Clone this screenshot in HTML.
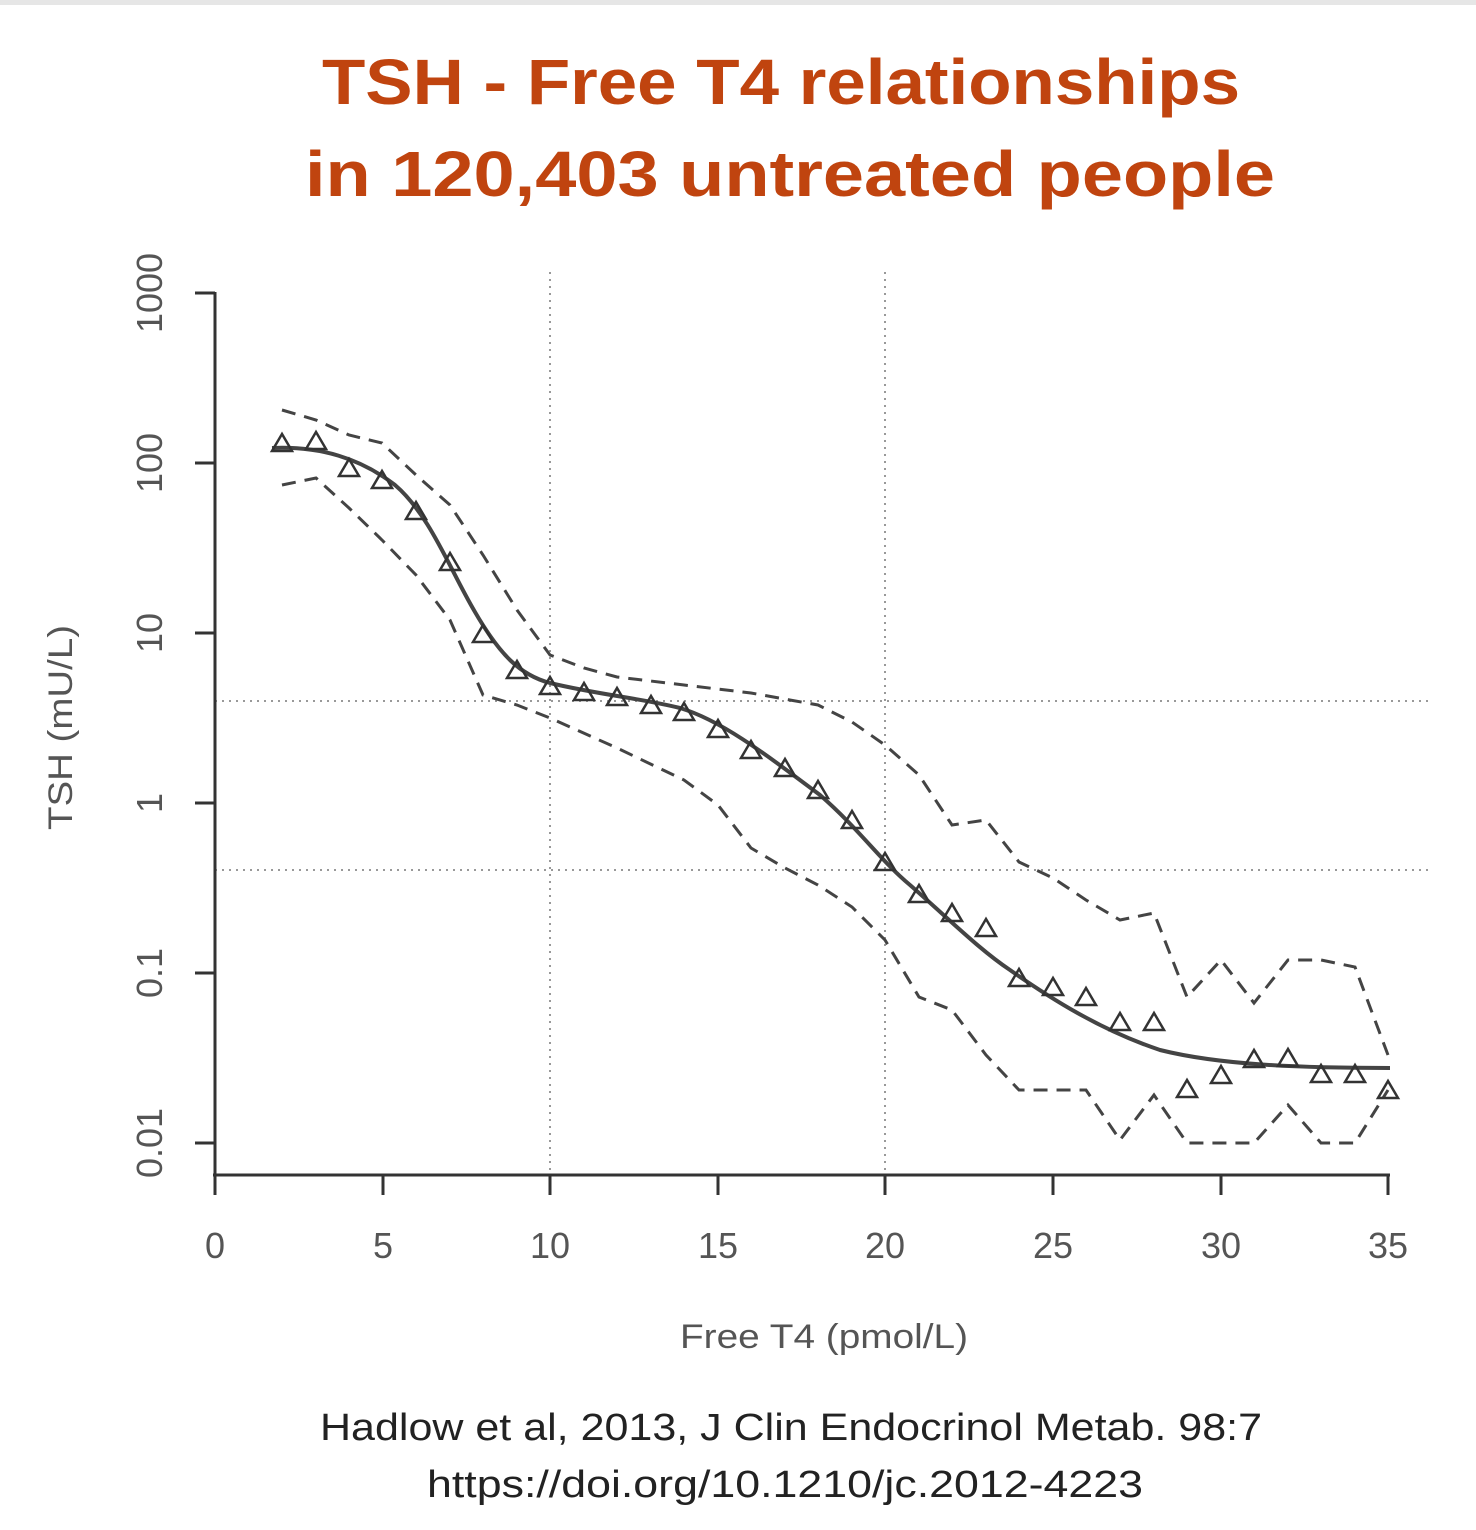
<!DOCTYPE html>
<html><head><meta charset="utf-8"><style>
html,body{margin:0;padding:0;background:#fff;width:1476px;height:1530px;overflow:hidden}
</style></head><body>
<svg width="1476" height="1530" viewBox="0 0 1476 1530" xmlns="http://www.w3.org/2000/svg">
<rect x="0" y="0" width="1476" height="5" fill="#e6e6e6"/>
<g font-family="Liberation Sans, sans-serif" font-weight="bold" fill="#c0440f" font-size="64">
<text x="322" y="104" textLength="918" lengthAdjust="spacingAndGlyphs">TSH - Free T4 relationships</text>
<text x="305" y="196" textLength="970" lengthAdjust="spacingAndGlyphs">in 120,403 untreated people</text>
</g>
<g stroke="#999" stroke-width="2" stroke-dasharray="2,5" fill="none">
<line x1="550" y1="272" x2="550" y2="1175"/>
<line x1="885" y1="272" x2="885" y2="1175"/>
<line x1="215" y1="701" x2="1428" y2="701"/>
<line x1="215" y1="870" x2="1428" y2="870"/>
</g>
<g stroke="#333" stroke-width="3" fill="none">
<line x1="215" y1="292" x2="215" y2="1176"/>
<line x1="213" y1="1175" x2="1390" y2="1175"/>
<line x1="195" y1="293" x2="215" y2="293"/>
<line x1="195" y1="463" x2="215" y2="463"/>
<line x1="195" y1="633" x2="215" y2="633"/>
<line x1="195" y1="803" x2="215" y2="803"/>
<line x1="195" y1="973" x2="215" y2="973"/>
<line x1="195" y1="1143" x2="215" y2="1143"/>
<line x1="215" y1="1175" x2="215" y2="1195"/>
<line x1="383" y1="1175" x2="383" y2="1195"/>
<line x1="550" y1="1175" x2="550" y2="1195"/>
<line x1="718" y1="1175" x2="718" y2="1195"/>
<line x1="885" y1="1175" x2="885" y2="1195"/>
<line x1="1053" y1="1175" x2="1053" y2="1195"/>
<line x1="1221" y1="1175" x2="1221" y2="1195"/>
<line x1="1388" y1="1175" x2="1388" y2="1195"/>
</g>
<g font-family="Liberation Sans, sans-serif" fill="#555" font-size="36" text-anchor="middle">
<text x="215" y="1258">0</text><text x="383" y="1258">5</text><text x="550" y="1258">10</text>
<text x="718" y="1258">15</text><text x="885" y="1258">20</text><text x="1053" y="1258">25</text>
<text x="1221" y="1258">30</text><text x="1388" y="1258">35</text>
<text transform="translate(162,293) rotate(-90)">1000</text>
<text transform="translate(162,463) rotate(-90)">100</text>
<text transform="translate(162,633) rotate(-90)">10</text>
<text transform="translate(162,803) rotate(-90)">1</text>
<text transform="translate(162,973) rotate(-90)">0.1</text>
<text transform="translate(162,1143) rotate(-90)">0.01</text>
</g>
<g font-family="Liberation Sans, sans-serif" fill="#555" font-size="34">
<text x="680" y="1348" textLength="288" lengthAdjust="spacingAndGlyphs">Free T4 (pmol/L)</text>
<text transform="translate(72,830) rotate(-90)" textLength="205" lengthAdjust="spacingAndGlyphs">TSH (mU/L)</text>
</g>
<g stroke="#444" stroke-width="3" stroke-dasharray="14,9" fill="none">
<polyline points="282,410 316,420 349,435 382,443 416,475 450,505 483,555 517,610 550,655 584,668 617,677 684,685 751,693 818,705 852,722 885,745 919,775 952,825 986,820 1019,862 1053,878 1086,900 1120,920 1154,913 1187,997 1221,960 1254,1003 1288,960 1321,960 1355,967 1388,1055"/>
<polyline points="282,485 316,478 349,508 382,540 416,575 450,620 483,695 517,705 550,718 617,748 684,780 718,805 751,848 785,868 818,885 852,907 885,940 919,997 952,1010 986,1055 1019,1090 1053,1090 1086,1090 1120,1140 1154,1095 1187,1143 1221,1143 1254,1143 1288,1105 1321,1143 1355,1143 1388,1090"/>
</g>
<path d="M272,448 C320,446 360,458 395,485 C430,515 450,570 475,612 C500,655 520,675 550,683 C600,695 640,698 680,708 C720,720 760,750 820,795 C860,830 880,860 910,885 C950,920 980,950 1010,970 C1050,998 1100,1030 1160,1050 C1220,1065 1300,1068 1390,1068" stroke="#444" stroke-width="4" fill="none"/>
<g stroke="#333" stroke-width="2.5" fill="none">
<path d="M282,434 l-10,17 h20 z"/><path d="M316,432 l-10,17 h20 z"/><path d="M349,459 l-10,17 h20 z"/>
<path d="M382,471 l-10,17 h20 z"/><path d="M416,502 l-10,17 h20 z"/><path d="M450,553 l-10,17 h20 z"/>
<path d="M483,625 l-10,17 h20 z"/><path d="M517,661 l-10,17 h20 z"/><path d="M550,677 l-10,17 h20 z"/>
<path d="M584,683 l-10,17 h20 z"/><path d="M617,688 l-10,17 h20 z"/><path d="M651,696 l-10,17 h20 z"/>
<path d="M684,703 l-10,17 h20 z"/><path d="M718,720 l-10,17 h20 z"/><path d="M751,741 l-10,17 h20 z"/>
<path d="M785,759 l-10,17 h20 z"/><path d="M818,781 l-10,17 h20 z"/><path d="M852,811 l-10,17 h20 z"/>
<path d="M885,853 l-10,17 h20 z"/><path d="M919,885 l-10,17 h20 z"/><path d="M952,904 l-10,17 h20 z"/>
<path d="M986,919 l-10,17 h20 z"/><path d="M1019,969 l-10,17 h20 z"/><path d="M1053,978 l-10,17 h20 z"/>
<path d="M1086,988 l-10,17 h20 z"/><path d="M1120,1013 l-10,17 h20 z"/><path d="M1154,1013 l-10,17 h20 z"/>
<path d="M1187,1080 l-10,17 h20 z"/><path d="M1221,1066 l-10,17 h20 z"/><path d="M1254,1050 l-10,17 h20 z"/>
<path d="M1288,1049 l-10,17 h20 z"/><path d="M1321,1065 l-10,17 h20 z"/><path d="M1355,1065 l-10,17 h20 z"/>
<path d="M1388,1081 l-10,17 h20 z"/>
</g>
<g font-family="Liberation Sans, sans-serif" fill="#222" font-size="38">
<text x="320" y="1440" textLength="942" lengthAdjust="spacingAndGlyphs">Hadlow et al, 2013, J Clin Endocrinol Metab. 98:7</text>
<text x="427" y="1497" textLength="716" lengthAdjust="spacingAndGlyphs">https://doi.org/10.1210/jc.2012-4223</text>
</g>
</svg>
</body></html>
